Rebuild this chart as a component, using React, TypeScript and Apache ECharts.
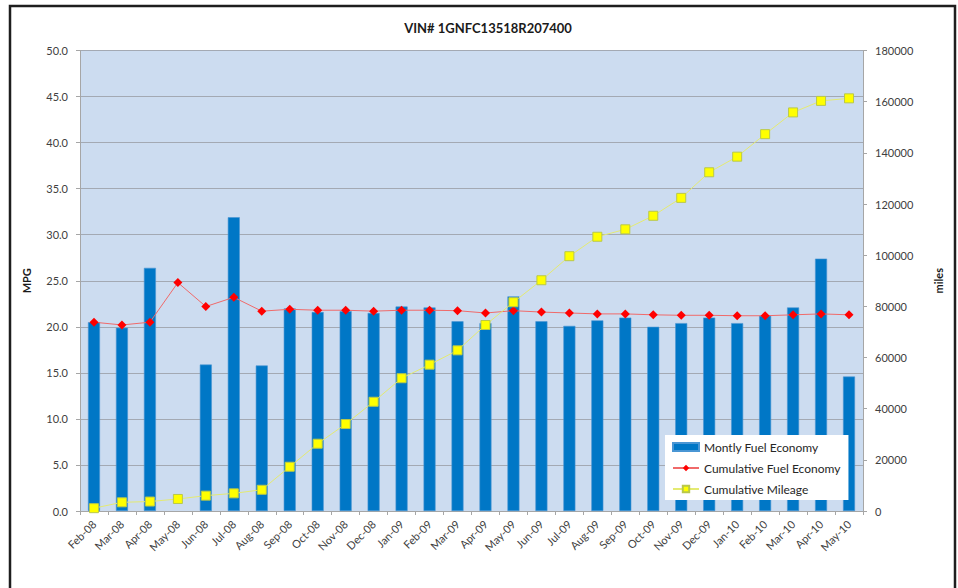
import React, { useEffect, useRef } from "react";
import * as echarts from "echarts";

const months = [
  "Feb-08", "Mar-08", "Apr-08", "May-08", "Jun-08", "Jul-08", "Aug-08", "Sep-08", "Oct-08", "Nov-08", "Dec-08",
  "Jan-09", "Feb-09", "Mar-09", "Apr-09", "May-09", "Jun-09", "Jul-09", "Aug-09", "Sep-09", "Oct-09", "Nov-09", "Dec-09",
  "Jan-10", "Feb-10", "Mar-10", "Apr-10", "May-10",
];

const monthlyMpg: (number | null)[] = [
  20.5, 19.9, 26.4, null, 15.9, 31.9, 15.8, 22.0, 21.6, 21.7, 21.5,
  22.2, 22.1, 20.6, 20.4, 23.3, 20.6, 20.1, 20.7, 21.0, 20.0, 20.4, 21.0,
  20.4, 21.2, 22.1, 27.4, 14.6,
];

const cumulativeMpg = [
  20.5, 20.2, 20.5, 24.8, 22.2, 23.2, 21.7, 21.9, 21.8, 21.8, 21.7,
  21.8, 21.8, 21.75, 21.5, 21.75, 21.6, 21.5, 21.4, 21.4, 21.3, 21.25, 21.25,
  21.2, 21.2, 21.3, 21.4, 21.3,
];

const cumulativeMiles = [
  1100, 3400, 3700, 4700, 6000, 6900, 8300, 17300, 26300, 34000, 42700,
  51900, 57200, 62800, 72700, 81600, 90200, 99600, 107200, 110100, 115400, 122400, 132400,
  138500, 147300, 155800, 160300, 161300,
];

const FONT = "Lato, 'Liberation Sans', sans-serif";

export default function App() {
  const ref = useRef<HTMLDivElement>(null);
  useEffect(() => {
    if (!ref.current) return;
    const chart = echarts.init(ref.current, undefined, { renderer: "svg" });
    chart.setOption({
      animation: false,
      backgroundColor: "#ffffff",
      title: {
        text: "VIN# 1GNFC13518R207400",
        left: 483,
        textAlign: "center",
        top: 16,
        textStyle: { fontFamily: FONT, fontSize: 13, fontWeight: "bold", color: "#1a1a1a" },
      },
      graphic: [
        {
          type: "rect",
          shape: { x: 10, y: 6, width: 945, height: 620 },
          style: { fill: "none", stroke: "#1e1e1e", lineWidth: 2.5 },
          silent: true,
        },
      ],
      legend: {
        orient: "vertical",
        left: 665,
        top: 435,
        width: 180,
        backgroundColor: "#ffffff",
        padding: [5, 8, 4, 7],
        itemWidth: 26,
        itemHeight: 8,
        itemGap: 7,
        textStyle: { fontFamily: FONT, fontSize: 12, color: "#262626", lineHeight: 14 },
        data: [
          { name: "Montly Fuel Economy", icon: "rect" },
          { name: "Cumulative Fuel Economy" },
          { name: "Cumulative Mileage" },
        ],
      },
      grid: {
        left: 80,
        right: 95,
        top: 50.5,
        bottom: 77,
        show: true,
        backgroundColor: "#CCDCF0",
        borderWidth: 0,
      },
      xAxis: {
        type: "category",
        data: months,
        boundaryGap: true,
        axisLine: { lineStyle: { color: "#A6A6A6", width: 1 } },
        axisTick: { show: true, length: 4, lineStyle: { color: "#A6A6A6" } },
        axisLabel: {
          rotate: 45,
          interval: 0,
          fontFamily: FONT,
          fontSize: 11,
          color: "#404040",
          margin: 11,
        },
      },
      yAxis: [
        {
          type: "value",
          min: 0,
          max: 50,
          interval: 5,
          name: "MPG",
          nameLocation: "middle",
          nameRotate: 90,
          nameGap: 48,
          nameTextStyle: { fontFamily: FONT, fontSize: 11, fontWeight: "bold", color: "#1a1a1a" },
          axisLine: { show: true, lineStyle: { color: "#A6A6A6" } },
          axisTick: { show: true, length: 4, lineStyle: { color: "#A6A6A6" } },
          axisLabel: {
            formatter: (v: number) => v.toFixed(1),
            fontFamily: FONT,
            fontSize: 11,
            color: "#404040",
            margin: 12,
          },
          splitLine: { show: true, lineStyle: { color: "#A3A9B3", width: 1 } },
        },
        {
          type: "value",
          min: 0,
          max: 180000,
          interval: 20000,
          name: "miles",
          nameLocation: "middle",
          nameRotate: 90,
          nameGap: 70,
          nameTextStyle: { fontFamily: FONT, fontSize: 11, fontWeight: "bold", color: "#1a1a1a" },
          position: "right",
          axisLine: { show: true, lineStyle: { color: "#A6A6A6" } },
          axisTick: { show: true, length: 4, lineStyle: { color: "#A6A6A6" } },
          axisLabel: {
            formatter: (v: number) => String(v),
            fontFamily: FONT,
            fontSize: 11,
            color: "#404040",
            margin: 12,
          },
          splitLine: { show: false },
        },
      ],
      series: [
        {
          name: "Montly Fuel Economy",
          type: "bar",
          data: monthlyMpg,
          barWidth: 12,
          itemStyle: { color: "#0077C6", borderColor: "#4A96D4", borderWidth: 0.6 },
          z: 2,
        },
        {
          name: "Cumulative Fuel Economy",
          type: "line",
          data: cumulativeMpg,
          symbol: "diamond",
          symbolSize: 9,
          itemStyle: { color: "#FF0000" },
          lineStyle: { color: "#F06A6A", width: 1 },
          z: 4,
        },
        {
          name: "Cumulative Mileage",
          type: "line",
          yAxisIndex: 1,
          data: cumulativeMiles,
          symbol: "rect",
          symbolSize: 9,
          itemStyle: { color: "#FFFF00", borderColor: "#B9C84A", borderWidth: 1 },
          lineStyle: { color: "#E4EA72", width: 1 },
          z: 5,
        },
      ],
    });
    return () => chart.dispose();
  }, []);
  return <div ref={ref} style={{ position: "fixed", left: 0, top: 0, width: 958, height: 588 }} />;
}
